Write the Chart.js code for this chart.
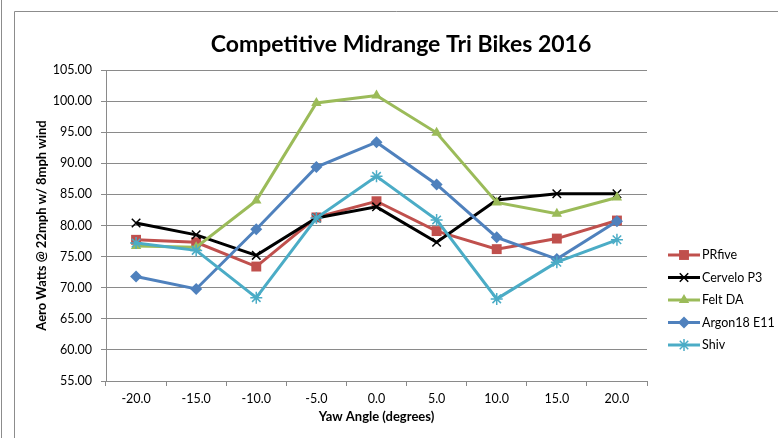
<!DOCTYPE html>
<html>
<head>
<meta charset="utf-8">
<script src="https://cdn.jsdelivr.net/npm/chart.js@4/dist/chart.umd.min.js"></script>
<style>
  html, body { margin: 0; padding: 0; background: #fff; }
  #wrap { width: 778px; height: 438px; }
</style>
</head>
<body>
<div id="wrap"><canvas id="MyChart" width="778" height="438"></canvas></div>
<script>
// yaw angles (degrees)
var yawLabels = ['-20.0', '-15.0', '-10.0', '-5.0', '0.0', '5.0', '10.0', '15.0', '20.0'];

// aero watts @ 22mph w/ 8mph wind
var prfive  = [77.7, 77.3, 73.4, 81.3, 83.9, 79.1, 76.2, 77.9, 80.8];
var cervelo = [80.4, 78.5, 75.2, 81.2, 83.0, 77.3, 84.1, 85.1, 85.1];
var felt    = [76.7, 76.5, 84.0, 99.7, 100.9, 94.9, 83.7, 81.9, 84.5];
var argon   = [71.8, 69.8, 79.4, 89.4, 93.4, 86.6, 78.1, 74.6, 80.7];
var shiv    = [77.2, 76.0, 68.4, 81.2, 87.9, 80.9, 68.2, 74.1, 77.7];

var seriesNames = ['PRfive', 'Cervelo P3', 'Felt DA', 'Argon18 E11', 'Shiv'];

var FONT = 'Lato, "Liberation Sans", sans-serif';
var GRID = '#8a8a8a';

function series(label, values, color, marker, radius, fillMarker, order) {
  return {
    label: label,
    data: values,
    borderColor: color,
    backgroundColor: color,
    borderWidth: 3,
    tension: 0,
    pointStyle: marker,
    pointRadius: radius,
    pointHoverRadius: radius,
    pointBackgroundColor: fillMarker ? color : 'transparent',
    pointBorderColor: color,
    pointBorderWidth: fillMarker ? 0 : 1.5,
    order: order
  };
}

// frame round the chart + white background
const framePlugin = {
  id: 'frame',
  afterLayout(chart) {
    // title is centred on the whole chart, not on the plot
    chart.titleBlock.left = 14;
    chart.titleBlock.right = 788;
  },
  beforeDraw(chart) {
    const ctx = chart.ctx;
    ctx.save();
    ctx.fillStyle = '#fff';
    ctx.fillRect(0, 0, chart.width, chart.height);
    ctx.strokeStyle = '#8c8c8c';
    ctx.lineWidth = 1;
    ctx.beginPath();
    ctx.moveTo(1.5, 0); ctx.lineTo(1.5, chart.height);
    ctx.moveTo(14.5, chart.height); ctx.lineTo(14.5, 11.5); ctx.lineTo(chart.width, 11.5);
    ctx.stroke();
    ctx.restore();
  }
};

// excel style legend: line with marker
const sideLegend = {
  id: 'sideLegend',
  afterDraw(chart) {
    const ctx = chart.ctx;
    chart.data.datasets.forEach(function (ds, i) {
      const y = 255 + i * 22.5;
      ctx.save();
      ctx.strokeStyle = ds.borderColor;
      ctx.lineWidth = 3;
      ctx.beginPath();
      ctx.moveTo(668, y); ctx.lineTo(700, y);
      ctx.stroke();
      ctx.fillStyle = ds.pointBackgroundColor;
      ctx.strokeStyle = ds.pointBorderColor;
      ctx.lineWidth = ds.pointBorderWidth;
      Chart.helpers.drawPoint(ctx, {
        pointStyle: ds.pointStyle, radius: ds.pointRadius,
        borderWidth: ds.pointBorderWidth, rotation: 0
      }, 684, y);
      ctx.fillStyle = '#000';
      ctx.font = '12.5px ' + FONT;
      ctx.textBaseline = 'middle';
      ctx.textAlign = 'left';
      ctx.fillText(ds.label, 702, y);
      ctx.restore();
    });
  }
};

const data = {
  labels: yawLabels,
  datasets: [
    series(seriesNames[0], prfive, '#C0504D', 'rect', 7, true, 5),
    series(seriesNames[1], cervelo, '#000000', 'crossRot', 6, false, 4),
    series(seriesNames[2], felt, '#9BBB59', 'triangle', 6, true, 3),
    series(seriesNames[3], argon, '#4F81BD', 'rectRot', 6, true, 2),
    series(seriesNames[4], shiv, '#4BACC6', 'star', 6, false, 1)
  ]
};

const config = {
  type: 'line',
  data: data,
  options: {
    responsive: false,
    animation: false,
    devicePixelRatio: 1,
    layout: { padding: { left: 14, right: 131, top: 0, bottom: 0 } },
    plugins: {
      legend: { display: false },
      tooltip: { enabled: false },
      title: {
        display: true,
        text: 'Competitive Midrange Tri Bikes 2016',
        color: '#000',
        font: { family: FONT, size: 23, weight: 'bold', lineHeight: 1.2 },
        padding: { top: 31, bottom: 11.4 }
      }
    },
    scales: {
      x: {
        offset: true,
        grid: { offset: true, drawOnChartArea: false, drawTicks: true, tickLength: 5, color: GRID },
        border: { color: GRID },
        ticks: { color: '#000', font: { family: FONT, size: 12.5 }, padding: 5, maxRotation: 0 },
        title: {
          display: true, text: 'Yaw Angle (degrees)', color: '#000',
          font: { family: FONT, size: 13, weight: 'bold' },
          padding: { top: 0, bottom: 13 }
        },
        afterFit: function (scale) { scale.height = 57; }
      },
      y: {
        min: 55, max: 105,
        grid: { color: GRID, tickLength: 5 },
        border: { color: GRID },
        ticks: {
          stepSize: 5, color: '#000', padding: 9,
          font: { family: FONT, size: 12.5 },
          callback: function (v) { return Number(v).toFixed(2); }
        },
        title: {
          display: true, text: 'Aero Watts @ 22mph w/ 8mph wind', color: '#000',
          font: { family: FONT, size: 13, weight: 'bold' },
          padding: { top: 20, bottom: 0 }
        },
        afterFit: function (scale) { scale.width = 92; }
      }
    }
  },
  plugins: [framePlugin, sideLegend]
};

const myChart = new Chart(document.getElementById('MyChart'), config);
</script>
</body>
</html>
